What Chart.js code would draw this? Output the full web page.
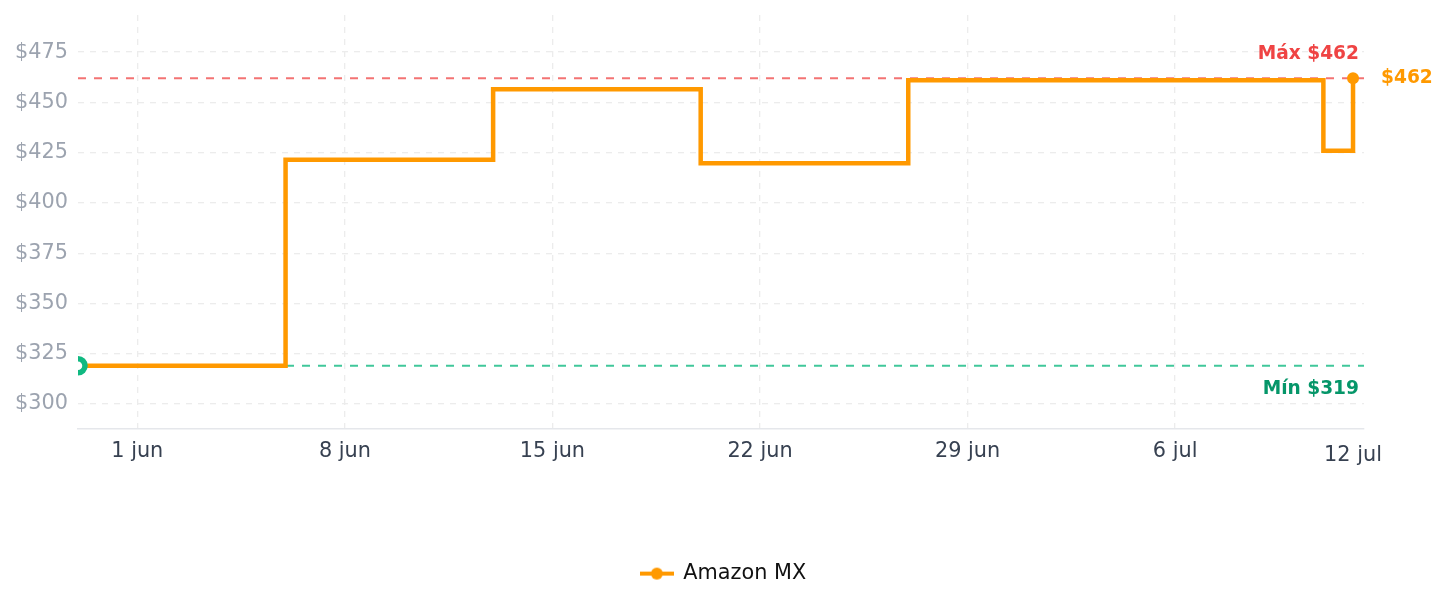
<!DOCTYPE html>
<html><head><meta charset="utf-8">
<script src="https://cdn.jsdelivr.net/npm/chart.js@4.4.1/dist/chart.umd.min.js"></script>
<style>html,body{margin:0;padding:0;background:#fff;}</style>
</head><body>
<canvas id="c" width="1447" height="607" style="display:block;width:1447px;height:607px"></canvas>
<script>
// ---- data ----
const dates = ['2025-05-30','2025-06-06','2025-06-13','2025-06-20','2025-06-27','2025-07-11','2025-07-12'];
const prices = [319, 421.5, 456.5, 419.7, 461, 426, 462];
const xTickDates = ['2025-06-01','2025-06-08','2025-06-15','2025-06-22','2025-06-29','2025-07-06'];
const xTickLabels = ['1 jun','8 jun','15 jun','22 jun','29 jun','6 jul'];
const yTickValues = [300,325,350,375,400,425,450,475];
const seriesName = 'Amazon MX';
const lastDateLabel = '12 jul';

// ---- helpers ----
const BASE = Date.UTC(2025,5,1);
function toDay(s){ const [y,m,d]=s.split('-').map(Number); return (Date.UTC(y,m-1,d)-BASE)/86400000; }
const days = dates.map(toDay);
const xTickDays = xTickDates.map(toDay);
const maxPrice = Math.max(...prices), minPrice = Math.min(...prices);
const span = maxPrice - minPrice;
const yMin = minPrice - span*0.22, yMax = maxPrice + span*0.22;
const xMin = days[0], xMax = days[days.length-1] + 0.37;
const lastI = prices.length-1;

const ORANGE = '#ff9900';
const FONT = '"DejaVu Sans", sans-serif';
const GRID = '#ececec';

// legend marker (line with dot)
const mk = document.createElement('canvas');
mk.width = 34; mk.height = 14;
(function(){const g=mk.getContext('2d'); g.strokeStyle=ORANGE; g.lineWidth=4; g.beginPath(); g.moveTo(0,7); g.lineTo(34,7); g.stroke(); g.fillStyle=ORANGE; g.beginPath(); g.arc(17,7,6,0,Math.PI*2); g.fill();})();

const annot = {
  id: 'annot',
  afterDraw(chart){
    const {ctx, chartArea, scales:{x,y}} = chart;
    const pyMax = y.getPixelForValue(maxPrice), pyMin = y.getPixelForValue(minPrice);
    ctx.save();
    ctx.textBaseline = 'middle';
    ctx.font = 'bold 18.6px ' + FONT;
    ctx.textAlign = 'right';
    ctx.fillStyle = '#ef4444';
    ctx.fillText('Máx $' + maxPrice, chartArea.right - 5, pyMax - 24);
    ctx.fillStyle = '#059669';
    ctx.fillText('Mín $' + minPrice, chartArea.right - 5, pyMin + 23.5);
    const lx = x.getPixelForValue(days[lastI]), ly = y.getPixelForValue(prices[lastI]);
    ctx.textAlign = 'left';
    ctx.fillStyle = ORANGE;
    ctx.fillText('$' + prices[lastI], lx + 28, ly);
    ctx.font = '20.8px ' + FONT;
    ctx.fillStyle = '#374151';
    ctx.textAlign = 'center';
    ctx.fillText(lastDateLabel, lx, chartArea.bottom + 27);
    ctx.restore();
  }
};

new Chart(document.getElementById('c'), {
  type: 'line',
  data: {
    datasets: [
      {
        label: seriesName,
        data: days.map((d,i)=>({x:d, y:prices[i]})),
        borderColor: ORANGE,
        borderWidth: 4.5,
        stepped: true,
        fill: false,
        clip: 0,
        pointRadius: c => c.dataIndex===0 ? 7 : (c.dataIndex===lastI ? 6 : 0),
        pointBackgroundColor: c => c.dataIndex===0 ? '#ffffff' : ORANGE,
        pointBorderColor: c => c.dataIndex===0 ? '#10b981' : ORANGE,
        pointBorderWidth: c => c.dataIndex===0 ? 5.5 : 0,
        order: 0
      },
      {
        label: 'max',
        data: [{x:xMin, y:maxPrice},{x:xMax, y:maxPrice}],
        borderColor: 'rgba(239,68,68,0.75)',
        borderWidth: 2,
        borderDash: [8,8],
        pointRadius: 0,
        order: 1
      },
      {
        label: 'min',
        data: [{x:xMin, y:minPrice},{x:xMax, y:minPrice}],
        borderColor: 'rgba(16,185,129,0.8)',
        borderWidth: 2,
        borderDash: [8,8],
        pointRadius: 0,
        order: 2
      }
    ]
  },
  options: {
    responsive: false,
    animation: false,
    layout: { padding: { top: 15, bottom: 13, left: 0, right: 0 } },
    scales: {
      x: {
        type: 'linear',
        min: xMin, max: xMax,
        afterBuildTicks: s => { s.ticks = xTickDays.map(v=>({value:v})); },
        afterFit: s => { s.height = 124.2; s.paddingLeft = 0; s.paddingRight = 0; },
        ticks: {
          callback: (v) => { const i = xTickDays.indexOf(v); return i>=0 ? xTickLabels[i] : ''; },
          color: '#374151', font: { family: FONT, size: 20.8 }, padding: 10, maxRotation: 0, autoSkip: false
        },
        grid: { color: GRID, lineWidth: 1.3, drawTicks: false },
        border: { display: true, color: '#e5e7eb', width: 1.5, dash: [6,6] }
      },
      y: {
        min: yMin, max: yMax,
        afterBuildTicks: s => { s.ticks = yTickValues.map(v=>({value:v})); },
        afterFit: s => { s.width = 78; s.paddingTop = 0; s.paddingBottom = 0; },
        ticks: { callback: v => '$' + v, color: '#9ca3af', font: { family: FONT, size: 20.8 }, padding: 10 },
        grid: { color: GRID, lineWidth: 1.3, drawTicks: false },
        border: { display: false, dash: [6,6] }
      },
      yR: {
        position: 'right',
        afterFit: s => { s.width = 83; s.paddingTop = 0; s.paddingBottom = 0; },
        ticks: { display: false },
        grid: { display: false, drawTicks: false },
        border: { display: false }
      }
    },
    plugins: {
      legend: {
        position: 'bottom',
        labels: {
          usePointStyle: true,
          pointStyleWidth: 32,
          padding: 10,
          color: '#111111',
          font: { family: FONT, size: 20.8 },
          filter: item => item.datasetIndex === 0,
          generateLabels: chart => Chart.defaults.plugins.legend.labels.generateLabels(chart).map(it => Object.assign(it, {pointStyle: mk}))
        }
      },
      tooltip: { enabled: false }
    }
  },
  plugins: [annot]
});
</script>
</body></html>
